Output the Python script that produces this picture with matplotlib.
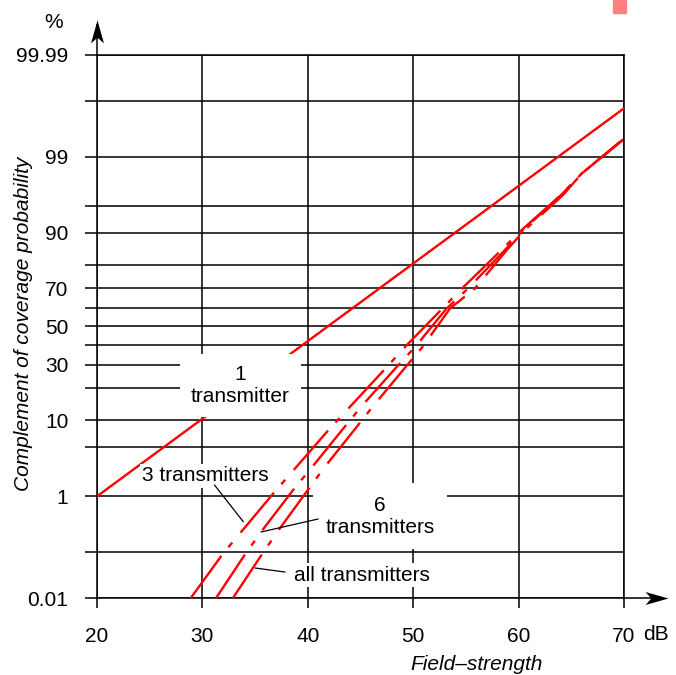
import numpy as np
import matplotlib
matplotlib.use('Agg')
import matplotlib.pyplot as plt
from matplotlib.path import Path
from matplotlib.patches import Rectangle
from matplotlib.ticker import NullFormatter
from statistics import NormalDist

plt.rcParams['font.family'] = ['Liberation Sans', 'DejaVu Sans']
plt.rcParams['lines.scale_dashes'] = False

# 1. data (field strength in dB, probability in %)
one_tx_db = [20, 70]
one_tx_pct = [1, 99.86]

three_tx_db = [28.9, 31.9, 36.9, 38.8, 42.0, 47.3, 49.4, 52.7, 54.8, 58.2, 60.3, 64.1, 66.0, 69.9]
three_tx_pct = [0.01, 0.09, 1.2, 2.6, 7.9, 27.9, 40.0, 59.3, 70.7, 84.7, 90.7, 96.5, 98.2, 99.48]

six_tx_db = [31.3, 34.0, 35.6, 38.6, 40.4, 43.4, 45.2, 48.4, 50.2, 53.1, 55.2, 58.6, 60.4, 64.1, 66.0, 69.9]
six_tx_pct = [0.01, 0.087, 0.25, 1.25, 2.7, 8.2, 14.1, 28.8, 39.1, 59.3, 69.9, 84.9, 90.6, 96.5, 98.2, 99.48]

all_tx_db = [32.9, 35.6, 37.2, 39.9, 41.5, 44.4, 46.1, 49.1, 50.9, 53.5, 55.8, 58.9, 60.5, 64.2, 66.0, 69.9]
all_tx_pct = [0.01, 0.087, 0.26, 1.19, 2.6, 7.8, 13.4, 27.9, 39.1, 59.8, 69.6, 85.3, 90.5, 96.4, 98.2, 99.47]

x_ticks = [20, 30, 40, 50, 60, 70]
y_major = [0.01, 1, 10, 30, 50, 70, 90, 99, 99.99]
y_labels = ['0.01', '1', '10', '30', '50', '70', '90', '99', '99.99']
y_minor = [0.1, 5, 20, 40, 60, 80, 95, 99.9]

# 2. normal probability scale
_nd = NormalDist()
_ppf = np.vectorize(_nd.inv_cdf, otypes=[float])
_cdf = np.vectorize(_nd.cdf, otypes=[float])


def prob_fwd(p):
    p = np.clip(np.asarray(p, dtype=float) / 100.0, 1e-9, 1 - 1e-9)
    return _ppf(p)


def prob_inv(z):
    return 100.0 * _cdf(np.asarray(z, dtype=float))


fig = plt.figure(figsize=(6.76, 6.75), dpi=100)
ax = fig.add_axes([97 / 676, 77 / 675, 527 / 676, 543 / 675])
ax.set_yscale('function', functions=(prob_fwd, prob_inv))
ax.set_xlim(20, 70)
ax.set_ylim(0.01, 99.99)

ax.set_xticks(x_ticks)
ax.set_xticklabels([str(t) for t in x_ticks])
ax.set_yticks(y_major)
ax.set_yticklabels(y_labels)
ax.set_yticks(y_minor, minor=True)
ax.yaxis.set_minor_formatter(NullFormatter())
ax.tick_params(axis='y', which='both', length=8.6, width=1.1, pad=12, labelsize=15, color='black')
ax.tick_params(axis='x', which='major', length=7.2, width=1.1, pad=14, labelsize=15, color='black')
ax.tick_params(axis='x', which='minor', bottom=False)

ax.set_axisbelow(True)
ax.grid(True, axis='y', which='both', color='black', lw=1.1)
ax.grid(True, axis='x', which='major', color='black', lw=1.1)
for sp in ax.spines.values():
    sp.set_linewidth(1.1)
    sp.set_color('black')

# 3. curves
dash = (0, (37.5, 8, 4.3, 9.4))
ax.plot(one_tx_db, one_tx_pct, color='red', lw=1.7, zorder=3)
ax.plot(three_tx_db, three_tx_pct, color='red', lw=1.7, ls=dash, zorder=3)
ax.plot(six_tx_db, six_tx_pct, color='red', lw=1.7, ls=dash, zorder=3)
ax.plot(all_tx_db, all_tx_pct, color='red', lw=1.7, ls=dash, zorder=3)

# 4. labels with white boxes and leader lines
box = dict(facecolor='white', edgecolor='none')
ax.text(33.6, 21, '1\ntransmitter', ha='center', va='center', fontsize=15,
        bbox=dict(box, pad=8), zorder=5)
ax.text(30.3, 2.03, '3 transmitters', ha='center', va='center', fontsize=15,
        bbox=dict(box, pad=2), zorder=5)
ax.text(46.85, 0.47, '6\ntransmitters', ha='center', va='center', fontsize=15,
        bbox=dict(box, pad=9), zorder=5)
ax.text(45.1, 0.033, 'all transmitters', ha='center', va='center', fontsize=15,
        bbox=dict(box, pad=2), zorder=5)

leader = dict(arrowstyle='-', lw=0.9, color='black', shrinkA=0, shrinkB=0)
ax.annotate('', xy=(33.88, 0.375), xytext=(31.14, 1.5), arrowprops=leader, zorder=6)
ax.annotate('', xy=(35.56, 0.244), xytext=(40.97, 0.418), arrowprops=leader, zorder=6)
ax.annotate('', xy=(34.99, 0.047), xytext=(37.84, 0.0385), arrowprops=leader, zorder=6)

# 5. axis arrows
up_head = Path([(0, 0), (-0.283, -1), (0, -0.75), (0.283, -1), (0, 0)],
               [Path.MOVETO, Path.LINETO, Path.LINETO, Path.LINETO, Path.CLOSEPOLY])
right_head = Path([(0, 0), (-1, 0.283), (-0.75, 0), (-1, -0.283), (0, 0)],
                  [Path.MOVETO, Path.LINETO, Path.LINETO, Path.LINETO, Path.CLOSEPOLY])
y_tip = (598 - 20) / 543
x_tip = (668 - 97) / 527
ax.plot([0, 0], [1, y_tip - 0.01], transform=ax.transAxes, color='black', lw=1.1, clip_on=False)
ax.plot([0], [y_tip], transform=ax.transAxes, marker=up_head, ms=33, color='black',
        mew=0, clip_on=False)
ax.plot([1, x_tip - 0.01], [0, 0], transform=ax.transAxes, color='black', lw=1.1, clip_on=False)
ax.plot([x_tip], [0], transform=ax.transAxes, marker=right_head, ms=33, color='black',
        mew=0, clip_on=False)

# 6. axis titles
fig.text(54 / 676, 1 - 23 / 675, '%', ha='center', va='center', fontsize=15)
fig.text(656 / 676, 1 - 635 / 675, 'dB', ha='center', va='center', fontsize=15)
fig.text(477 / 676, 1 - 665 / 675, 'Field\u2013strength', ha='center', va='center',
         fontsize=15, style='italic')
fig.text(23.5 / 676, 1 - 323.5 / 675, 'Complement of coverage probability', ha='center',
         va='center', fontsize=15, style='italic', rotation=90)

fig.add_artist(Rectangle((613 / 676, 1 - 13 / 675), 12.5 / 676, 13 / 675,
                         transform=fig.transFigure, color='#ff8080'))

fig.savefig('out.png', dpi=100)
